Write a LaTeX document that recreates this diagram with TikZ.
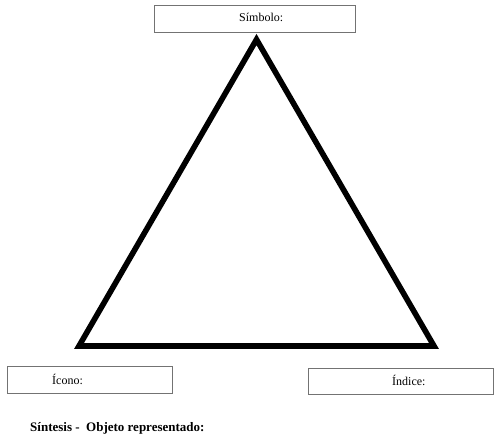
\documentclass[tikz,border=0pt]{standalone}
\usepackage{fontspec}
\setmainfont{Liberation Serif}
\begin{document}
\begin{tikzpicture}[x=1pt,y=-1pt,
  labelbox/.style={draw=black!55,line width=0.9pt,inner sep=0pt,rectangle},
  boxtext/.style={anchor=base west,inner sep=0pt,font=\fontsize{12}{14}\selectfont},
  edge/.style={line width=5.6pt,line join=miter}]
\useasboundingbox (0,0) rectangle (494,436);
% label boxes
\node[labelbox,minimum width=201pt,minimum height=27pt] (simbolo) at (255,18.5) {};
\node[labelbox,minimum width=165pt,minimum height=27pt] (icono) at (89.5,379.5) {};
\node[labelbox,minimum width=185pt,minimum height=25.5pt] (indice) at (400.5,381.5) {};
\node[boxtext] (tsimbolo) at (239,21.5) {Símbolo:};
\node[boxtext] (ticono) at (52,384) {Ícono:};
\node[boxtext] (tindice) at (392,385) {Índice:};
% triangle
\coordinate (apex) at (256.5,39.5);
\coordinate (left) at (79,346);
\coordinate (right) at (434,346);
\draw[edge] (apex) -- (left) -- (right) -- cycle;
% caption
\node[boxtext,font=\fontsize{13}{15}\selectfont\bfseries] (sintesis) at (30,431) {Síntesis -\ \ Objeto representado:};
\end{tikzpicture}
\end{document}
